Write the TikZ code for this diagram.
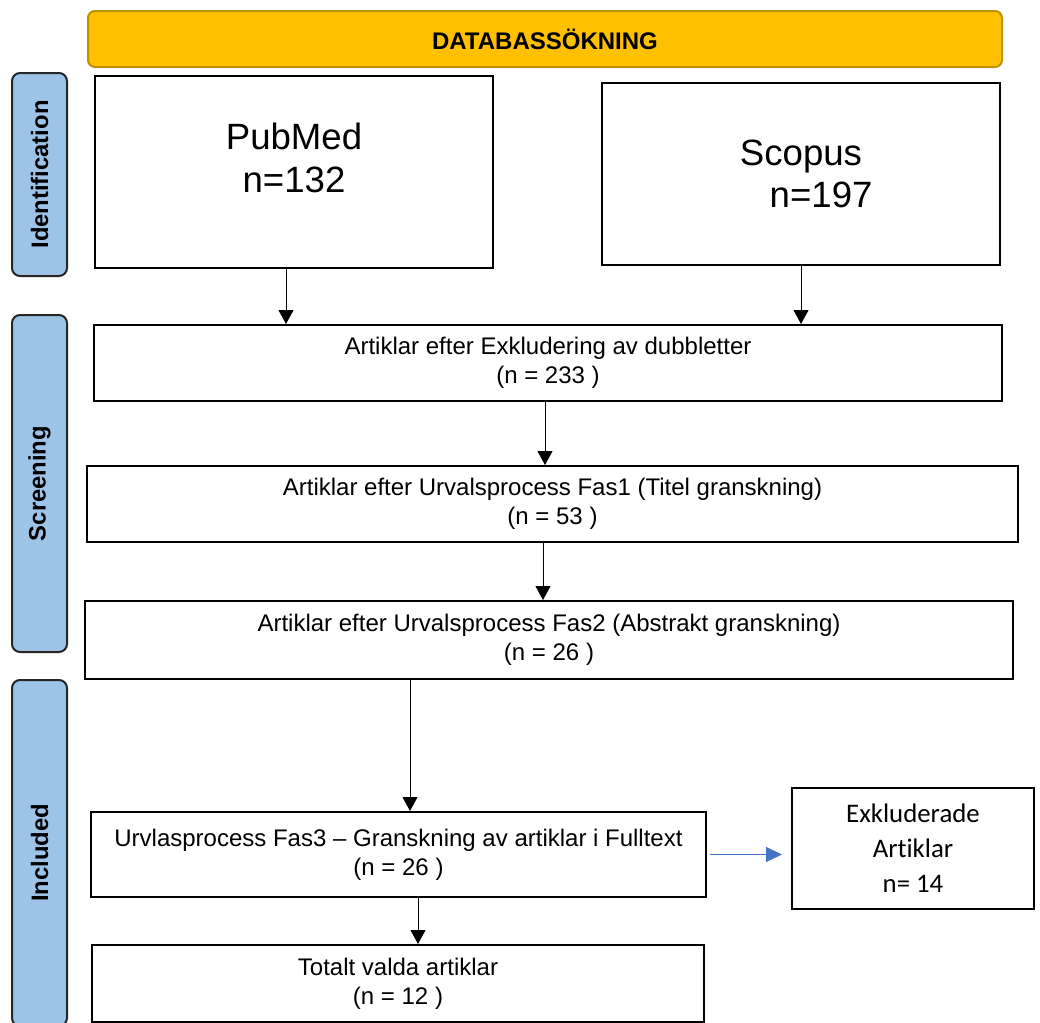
\documentclass[tikz,border=0pt]{standalone}
\usepackage{fontspec}
\setmainfont{Liberation Sans}
\newfontfamily\carlito[Ligatures=NoCommon]{Carlito}
\usetikzlibrary{arrows.meta}
\definecolor{headfill}{HTML}{FFC000}
\definecolor{headdraw}{HTML}{BF9000}
\definecolor{phasefill}{HTML}{9DC3E6}
\definecolor{exclblue}{HTML}{4472C4}

\begin{document}
\begin{tikzpicture}[x=0.5pt, y=-0.5pt,
		box/.style={draw, rectangle, line width=1pt, align=center, inner sep=0pt, font=\fontsize{12}{14.5}\selectfont},
		bigtext/.style={align=center, inner sep=0pt, font=\fontsize{18.3}{21.3}\selectfont},
		phase/.style={draw=black!85, fill=phasefill, rounded corners=4pt, line width=1pt, rotate=90, minimum height=27.5pt, inner sep=0pt, font=\bfseries\fontsize{11.9}{14}\selectfont},
		arr/.style={-{Triangle[length=7pt, width=7.5pt]}, line width=0.5pt}]
		\useasboundingbox (0,0) rectangle (1040,1023);
		
		\node[draw=headdraw, fill=headfill, rectangle, rounded corners=3.5pt, line width=1pt, minimum width=457pt, minimum height=28pt, font=\bfseries\fontsize{12}{14}\selectfont] (header) at (545,39) {DATABASSÖKNING};
		
		\node[phase, minimum width=101.5pt] (ident) at (39.5,174.5) {Identification};
		
		\node[phase, minimum width=168.5pt] (screen) at (39.5,483.5) {Screening};
		
		\node[phase, minimum width=173pt] (incl) at (39.5,853) {Included};
		
		\node[box, minimum width=199pt, minimum height=96pt] (pubmed) at (294,172) {};
		
		\node[bigtext] (pubmedtxt) at ([yshift=7pt]pubmed.center) {PubMed\\n=132};
		
		\node[box, minimum width=199pt, minimum height=91pt, font=\fontsize{18.3}{21.3}\selectfont] (scopus) at (801,174) {Scopus\\\hspace*{1.1em}n=197};
		
		\node[box, minimum width=454pt, minimum height=38pt] (dedup) at (548,363) {Artiklar efter Exkludering av dubbletter\\(n = 233 )};
		
		\node[box, minimum width=465.5pt, minimum height=38pt] (fas1) at (552.5,504) {Artiklar efter Urvalsprocess Fas1 (Titel granskning)\\(n = 53 )};
		
		\node[box, minimum width=464pt, minimum height=39pt] (fas2) at (549,640) {Artiklar efter Urvalsprocess Fas2 (Abstrakt granskning)\\(n = 26 )};
		
		\node[box, minimum width=307.5pt, minimum height=42.5pt] (fas3) at (398.5,854.5) {Urvlasprocess Fas3 -- Granskning av artiklar i Fulltext\\(n = 26 )};
		
		\node[box, minimum width=306pt, minimum height=38.5pt] (total) at (398,983.5) {Totalt valda artiklar\\(n = 12 )};
		
		\node[box, minimum width=121pt, minimum height=60.5pt, font=\carlito\fontsize{13.4}{17.5}\selectfont] (excl) at (913,848.5) {Exkluderade\\Artiklar\\n= 14};
		
		\draw[arr] ([xshift=-4pt]pubmed.south) -- ([xshift=-4pt]pubmed.south |- dedup.north);
		
		\draw[arr] (scopus.south) -- (scopus.south |- dedup.north);
		
		\draw[arr] ([xshift=-1.5pt]dedup.south) -- ([xshift=-1.5pt]dedup.south |- fas1.north);
		
		\draw[arr] ([xshift=-4.75pt]fas1.south) -- ([xshift=-4.75pt]fas1.south |- fas2.north);
		
		\draw[arr] ([xshift=5.75pt]fas3.north |- fas2.south) -- ([xshift=5.75pt]fas3.north);
		
		\draw[arr] ([xshift=9.75pt]fas3.south) -- ([xshift=9.75pt]fas3.south |- total.north);
		
		\draw[exclblue, line width=0.5pt, -{Triangle[length=8pt, width=7.5pt]}] ([xshift=1.5pt]fas3.east) -- ([xshift=-4.5pt]fas3.east -| excl.west);
\end{tikzpicture}
\end{document}
